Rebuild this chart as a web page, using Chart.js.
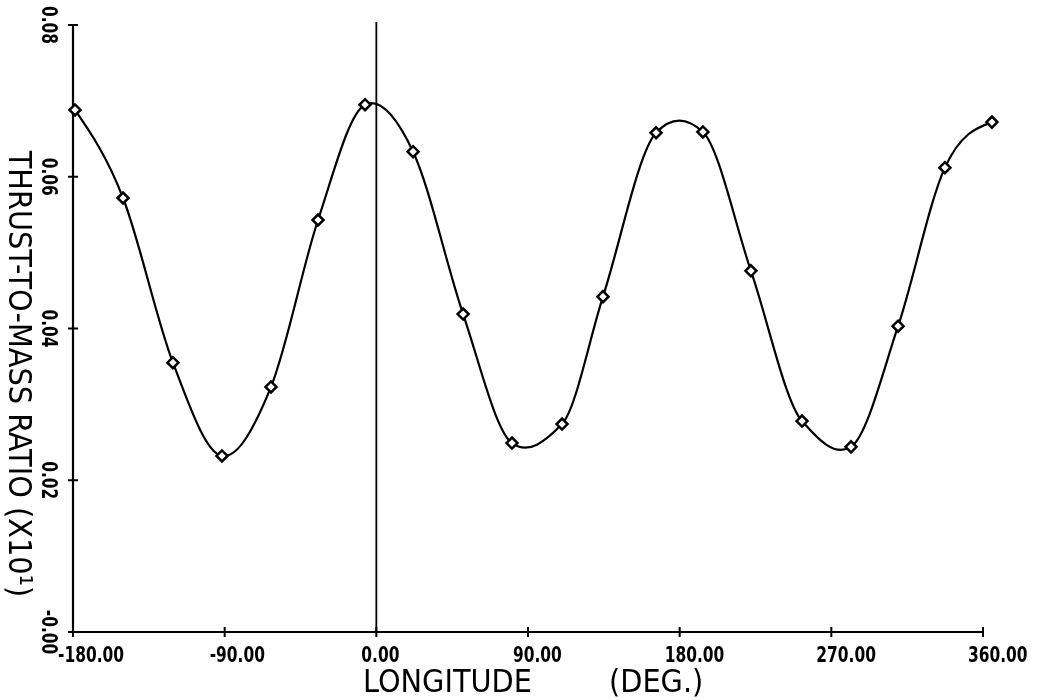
<!DOCTYPE html>
<html>
<head>
<meta charset="utf-8">
<script src="https://cdn.jsdelivr.net/npm/chart.js@4/dist/chart.umd.min.js"></script>
<style>
html,body{margin:0;padding:0;background:#fff;}
#wrap{width:1038px;height:700px;}
</style>
</head>
<body>
<div id="wrap"><canvas id="c" width="1038" height="700"></canvas></div>
<script>
// Data
const longitude = [-178.8, -150.3, -120.7, -91.6, -62.5, -34.6, -6.7, 21.8, 51.5, 80.5,
                   110.2, 134.5, 166.0, 193.8, 222.3, 252.6, 281.7, 309.6, 337.4, 365.3];
const ratio = [0.0688, 0.0572, 0.0355, 0.0232, 0.0323, 0.0543, 0.0695, 0.0633, 0.0419, 0.0249,
               0.0274, 0.0442, 0.0658, 0.0659, 0.0476, 0.0278, 0.0244, 0.0403, 0.0612, 0.0672];
const xTickValues = [-180, -90, 0, 90, 180, 270, 360];
const xTickLabels = ['-180.00', '-90.00', '0.00', '90.00', '180.00', '270.00', '360.00'];
const yTickValues = [0, 0.02, 0.04, 0.06, 0.08];
const yTickLabels = ['-0.00', '0.02', '0.04', '0.06', '0.08'];
const xTitleWord = 'LONGITUDE';
const xTitleUnit = '(DEG.)';
const yTitle = 'THRUST-TO-MASS RATIO (X10\u00B9)';

const points = longitude.map((x, i) => ({x: x, y: ratio[i]}));

const tickFont = 'bold 22px "DejaVu Sans Condensed", "DejaVu Sans", sans-serif';
const tickSquash = 0.78;
const titleFont = '32px "DejaVu Sans Condensed", "DejaVu Sans", sans-serif';

// smooth curve: x-based cubic Hermite control points for the library's line element
const smoothPlugin = {
  id: 'xSpline',
  beforeDatasetDraw(chart, args) {
    const meta = args.meta;
    const pts = meta.data;
    const n = pts.length;
    if (n < 3) return;
    const s = [];
    for (let i = 0; i < n - 1; i++) s.push((pts[i + 1].y - pts[i].y) / (pts[i + 1].x - pts[i].x));
    const m = new Array(n);
    for (let i = 1; i < n - 1; i++) {
      const l = s[i - 1], r = s[i];
      const q = Math.max(Math.abs(l), Math.abs(r)) / Math.max(1e-6, Math.min(Math.abs(l), Math.abs(r)));
      const f = (l * r <= 0 || q > 4) ? 0.65 : 1;
      m[i] = (pts[i + 1].y - pts[i - 1].y) / (pts[i + 1].x - pts[i - 1].x) * f;
    }
    // natural-like end tangents
    m[0] = 1.5 * s[0] - 0.5 * m[1];
    m[n - 1] = 1.5 * s[n - 2] - 0.5 * m[n - 2];
    for (let i = 0; i < n; i++) {
      const p = pts[i];
      if (i > 0) {
        const h = (p.x - pts[i - 1].x) / 3;
        p.cp1x = p.x - h; p.cp1y = p.y - m[i] * h;
      } else { p.cp1x = p.x; p.cp1y = p.y; }
      if (i < n - 1) {
        const h = (pts[i + 1].x - p.x) / 3;
        p.cp2x = p.x + h; p.cp2y = p.y + m[i] * h;
      } else { p.cp2x = p.x; p.cp2y = p.y; }
    }
    if (meta.dataset) { meta.dataset._pointsUpdated = true; meta.dataset._path = undefined; }
  }
};

const axesPlugin = {
  id: 'plotterAxes',
  beforeDatasetsDraw(chart) {
    const ctx = chart.ctx;
    const xs = chart.scales.x, ys = chart.scales.y;
    const x0 = xs.getPixelForValue(-180), x1 = xs.getPixelForValue(360);
    const y0 = ys.getPixelForValue(0), y1 = ys.getPixelForValue(0.08);
    ctx.save();
    ctx.strokeStyle = '#000';
    ctx.lineCap = 'butt';
    ctx.lineWidth = 2.2;
    ctx.beginPath();
    ctx.moveTo(x0, y1); ctx.lineTo(x0, y0); ctx.lineTo(x1, y0);
    ctx.stroke();
    ctx.lineWidth = 2;
    ctx.beginPath();
    yTickValues.forEach(v => {
      const py = ys.getPixelForValue(v);
      ctx.moveTo(x0 - 5, py); ctx.lineTo(x0 + 5, py);
    });
    xTickValues.forEach(v => {
      const px = xs.getPixelForValue(v);
      ctx.moveTo(px, y0 - 5); ctx.lineTo(px, y0 + 5);
    });
    ctx.stroke();
    const xz = xs.getPixelForValue(0);
    ctx.lineWidth = 1.8;
    ctx.beginPath();
    ctx.moveTo(xz, y1 - 3); ctx.lineTo(xz, y0);
    ctx.stroke();
    ctx.restore();
  },
  afterDraw(chart) {
    const ctx = chart.ctx;
    const xs = chart.scales.x, ys = chart.scales.y;
    const y0 = ys.getPixelForValue(0);
    ctx.save();
    ctx.fillStyle = '#000';
    ctx.font = tickFont;
    ctx.textBaseline = 'alphabetic';
    xTickValues.forEach((v, i) => {
      const px = xs.getPixelForValue(v);
      ctx.save();
      ctx.translate(px - 15, y0 + 30);
      ctx.scale(tickSquash, 1);
      ctx.textAlign = 'left';
      ctx.fillText(xTickLabels[i], 0, 0);
      ctx.restore();
    });
    yTickValues.forEach((v, i) => {
      const py = ys.getPixelForValue(v);
      ctx.save();
      ctx.translate(42, py);
      ctx.rotate(Math.PI / 2);
      ctx.scale(tickSquash, 1);
      ctx.textAlign = 'center';
      ctx.fillText(yTickLabels[i], 0, 0);
      ctx.restore();
    });
    ctx.font = titleFont;
    ctx.textAlign = 'left';
    ctx.fillText(xTitleWord, 363, y0 + 60);
    ctx.fillText(xTitleUnit, 609, y0 + 60);
    ctx.save();
    ctx.translate(9, 374);
    ctx.rotate(Math.PI / 2);
    ctx.textAlign = 'center';
    ctx.fillText(yTitle, 0, 0);
    ctx.restore();
    ctx.restore();
  }
};

// x max extended slightly past 360 so the last marker (beyond the axis end) is drawn;
// right padding chosen so that 360 still lands at the axis end.
new Chart(document.getElementById('c'), {
  type: 'line',
  data: {
    datasets: [{
      data: points,
      borderColor: '#000',
      borderWidth: 2.2,
      tension: 0.4,
      capBezierPoints: false,
      fill: false,
      clip: false,
      pointStyle: 'rectRot',
      pointRadius: 5.5,
      pointBorderWidth: 2.5,
      pointBorderColor: '#000',
      pointBackgroundColor: '#fff'
    }]
  },
  options: {
    responsive: false,
    animation: false,
    devicePixelRatio: 1,
    layout: {padding: {left: 73, right: 34.78, top: 25, bottom: 68}},
    plugins: {legend: {display: false}, tooltip: {enabled: false}},
    scales: {
      x: {type: 'linear', min: -180, max: 372, display: false},
      y: {type: 'linear', min: 0, max: 0.08, display: false}
    }
  },
  plugins: [smoothPlugin, axesPlugin]
});
</script>
</body>
</html>
